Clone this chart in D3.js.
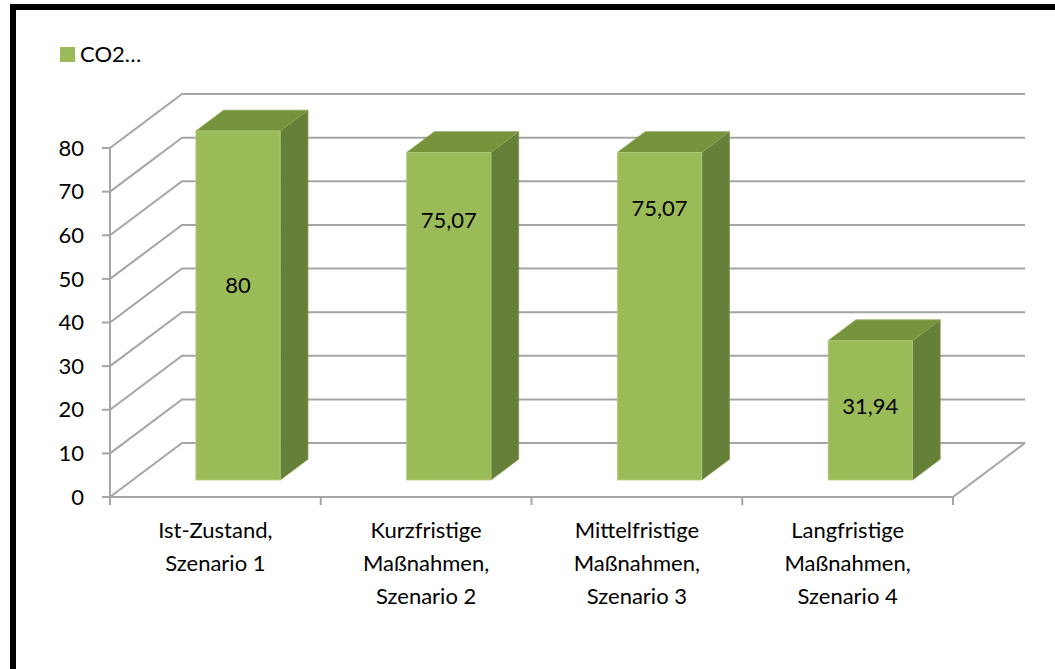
<!DOCTYPE html>
<html>
<head>
<meta charset="utf-8">
<script src="https://cdn.jsdelivr.net/npm/d3@7"></script>
<style>
  body { margin: 0; background: #fff; }
  svg { display: block; }
  text { font-family: Lato, "Open Sans", sans-serif; fill: #000; }
</style>
</head>
<body>
<svg width="1055" height="669"></svg>
<script>
// chart data
const categories = [
  ["Ist-Zustand,", "Szenario 1"],
  ["Kurzfristige", "Maßnahmen,", "Szenario 2"],
  ["Mittelfristige", "Maßnahmen,", "Szenario 3"],
  ["Langfristige", "Maßnahmen,", "Szenario 4"]
];
const values = [80, 75.07, 75.07, 31.94];
const valueLabels = ["80", "75,07", "75,07", "31,94"];
const yTicks = [0, 10, 20, 30, 40, 50, 60, 70, 80];
const seriesName = "CO2…";
// where Excel put the data labels, in value units
const labelLevels = [44.7, 59.6, 62.3, 16.9];

const fontSize = 22;
const svg = d3.select('svg');

// frame (only top and left visible)
svg.append('rect')
  .attr('x', 13).attr('y', 7)
  .attr('width', 1200).attr('height', 800)
  .attr('fill', 'none')
  .attr('stroke', '#000')
  .attr('stroke-width', 6);

// 3d projection: depth 0 = front plane, depth 1 = back wall
const depthDx = 72, depthDy = -54;
const xScale = d3.scaleBand()
  .domain(d3.range(categories.length))
  .range([110, 953])
  .paddingInner(0.6)
  .paddingOuter(0.3);
const yScale = d3.scaleLinear().domain([0, 80]).range([497, 148]);
const P = (x, v, d) => [x + d * depthDx, yScale(v) + d * depthDy];
const line = d3.line();

const gridColor = '#a5a5a5';
const grid = svg.append('g')
  .attr('fill', 'none')
  .attr('stroke', gridColor)
  .attr('stroke-width', 2);

const x0 = xScale.range()[0], x1 = xScale.range()[1];

// left wall + back wall gridlines
grid.selectAll('.gl')
  .data(yTicks)
  .enter()
  .append('path')
  .attr('d', v => line([P(x0, v, 0), P(x0, v, 1), P(x1, v, 1)]));

// floor front and right edges
grid.append('path')
  .attr('d', line([P(x0, 0, 0), P(x1, 0, 0), P(x1, 0, 1)]));

// front vertical axis
grid.append('path')
  .attr('d', line([P(x0, 80, 0), [x0, yScale(0) + 8]]));

// y ticks
grid.selectAll('.yt')
  .data(yTicks)
  .enter()
  .append('path')
  .attr('d', v => line([[x0 - 8, yScale(v)], [x0, yScale(v)]]));

// category ticks
const step = xScale.step();
grid.selectAll('.xt')
  .data(d3.range(categories.length + 1))
  .enter()
  .append('path')
  .attr('d', i => line([[x0 + i * step, yScale(0)], [x0 + i * step, yScale(0) + 8]]));

// y labels
svg.selectAll('.ylab')
  .data(yTicks)
  .enter()
  .append('text')
  .attr('x', 84)
  .attr('y', v => yScale(v))
  .attr('dy', '0.35em')
  .attr('text-anchor', 'end')
  .attr('font-size', fontSize)
  .text(v => v);

// bars
const d0 = 0.315, d1 = 0.70;
const bars = svg.selectAll('.bar')
  .data(values)
  .enter()
  .append('g')
  .classed('bar', true);

bars.append('path') // right side
  .attr('fill', '#66803a')
  .attr('stroke', '#7d9748').attr('stroke-width', 0.8)
  .attr('d', (v, i) => {
    const xr = xScale(i) + xScale.bandwidth();
    return line([P(xr, v, d0), P(xr, v, d1), P(xr, 0, d1), P(xr, 0, d0)]) + 'Z';
  });

bars.append('path') // top
  .attr('fill', '#77933c')
  .attr('stroke', '#8aa653').attr('stroke-width', 0.8)
  .attr('d', (v, i) => {
    const xl = xScale(i), xr = xl + xScale.bandwidth();
    return line([P(xl, v, d0), P(xr, v, d0), P(xr, v, d1), P(xl, v, d1)]) + 'Z';
  });

bars.append('path') // front
  .attr('fill', '#9bbb59')
  .attr('stroke', '#b3cc80').attr('stroke-width', 0.8)
  .attr('d', (v, i) => {
    const xl = xScale(i), xr = xl + xScale.bandwidth();
    return line([P(xl, v, d0), P(xr, v, d0), P(xr, 0, d0), P(xl, 0, d0)]) + 'Z';
  });

// data labels
svg.selectAll('.dlab')
  .data(values)
  .enter()
  .append('text')
  .attr('x', (v, i) => P(xScale(i) + xScale.bandwidth() / 2, 0, d0)[0])
  .attr('y', (v, i) => P(0, labelLevels[i], d0)[1])
  .attr('dy', '0.35em')
  .attr('text-anchor', 'middle')
  .attr('font-size', fontSize)
  .text((v, i) => valueLabels[i]);

// category labels
const catLabels = svg.selectAll('.clab')
  .data(categories)
  .enter()
  .append('text')
  .attr('text-anchor', 'middle')
  .attr('font-size', fontSize)
  .attr('x', (c, i) => xScale(i) + xScale.bandwidth() / 2)
  .attr('y', 538);
catLabels.selectAll('tspan')
  .data(c => c)
  .enter()
  .append('tspan')
  .attr('x', function() { return d3.select(this.parentNode).attr('x'); })
  .attr('dy', (t, j) => j === 0 ? 0 : 33)
  .text(t => t);

// legend
svg.append('rect')
  .attr('x', 60).attr('y', 47)
  .attr('width', 15).attr('height', 15)
  .attr('fill', '#9bbb59');
svg.append('text')
  .attr('x', 80).attr('y', 62)
  .attr('font-size', fontSize)
  .text(seriesName);
</script>
</body>
</html>
